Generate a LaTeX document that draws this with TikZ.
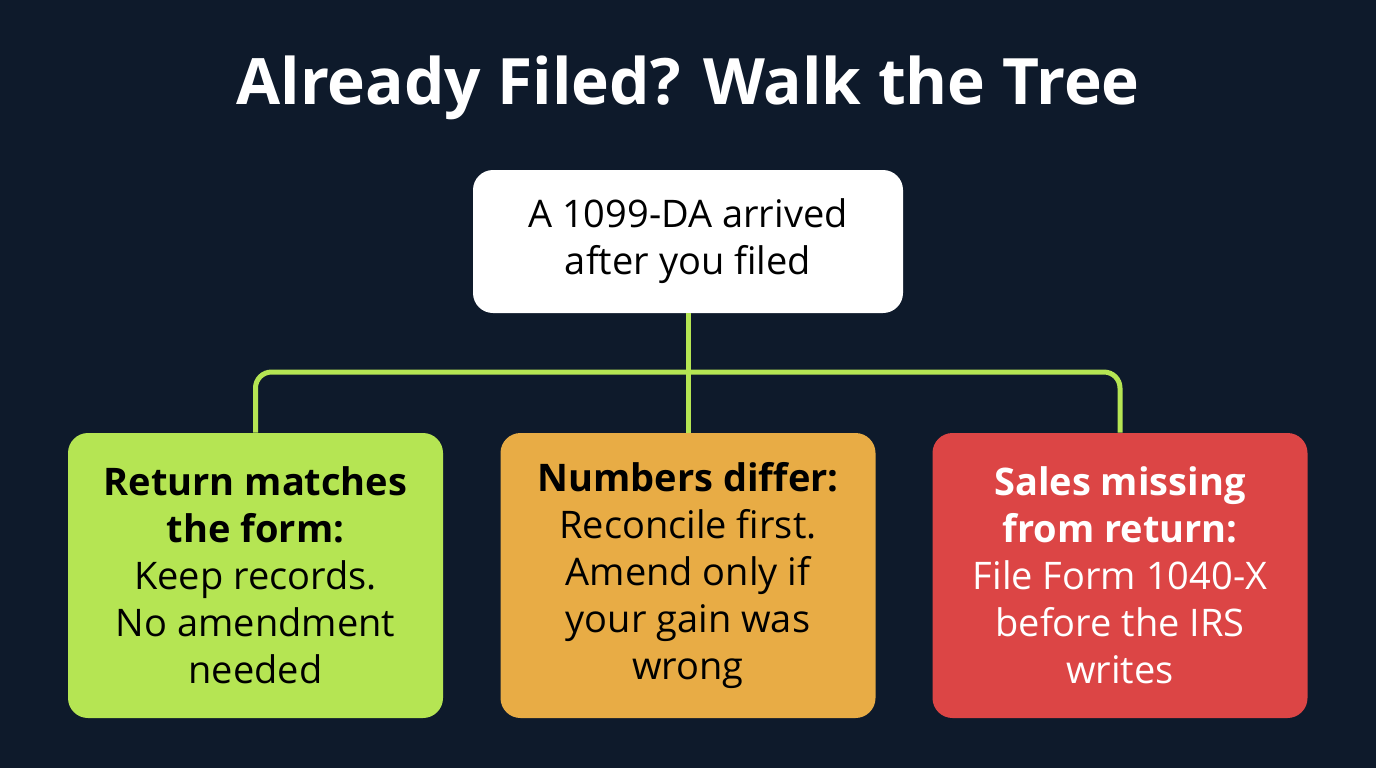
\documentclass[tikz,border=0pt]{standalone}
\usepackage{fontspec}
\setmainfont{Open Sans}
\definecolor{bg}{HTML}{0E1A2B}
\definecolor{lime}{HTML}{B5E553}
\definecolor{org}{HTML}{E8AC45}
\definecolor{rd}{HTML}{DC4545}
\begin{document}
\begin{tikzpicture}[x=0.5pt,y=-0.5pt,
  box/.style={rounded corners=10pt,minimum width=187.5pt,minimum height=142.5pt,align=center,font=\fontsize{19}{23.5}\selectfont,inner sep=0pt},
  link/.style={draw=lime,line width=2.5pt,rounded corners=8pt}]
\fill[bg] (0,0) rectangle (1376,768);
\useasboundingbox (0,0) rectangle (1376,768);
\node[font=\bfseries\fontsize{32}{38}\selectfont,text=white] (title) at (688,88) {Already Filed? Walk the Tree};
\node[box,fill=white,minimum width=215pt,minimum height=71.5pt,text=black] (top) at (688,241.5) {A 1099-DA arrived\\after you filed};
\node[box,fill=lime,text=black] (b1) at (255.5,575.5) {\textbf{Return matches}\\\textbf{the form:}\\Keep records.\\No amendment\\needed};
\node[box,fill=org,text=black] (b2) at (688,575.5) {\textbf{Numbers differ:}\\Reconcile first.\\Amend only if\\your gain was\\wrong};
\node[box,fill=rd,text=white] (b3) at (1120,575.5) {\textbf{Sales missing}\\\textbf{from return:}\\File Form 1040-X\\before the IRS\\writes};
\coordinate (j) at (688,372);
\draw[link] (top.south) -- (j);
\draw[link] (j) -| (b1.north);
\draw[link] (j) -| (b3.north);
\draw[link] (j) -- (b2.north);
\end{tikzpicture}
\end{document}
